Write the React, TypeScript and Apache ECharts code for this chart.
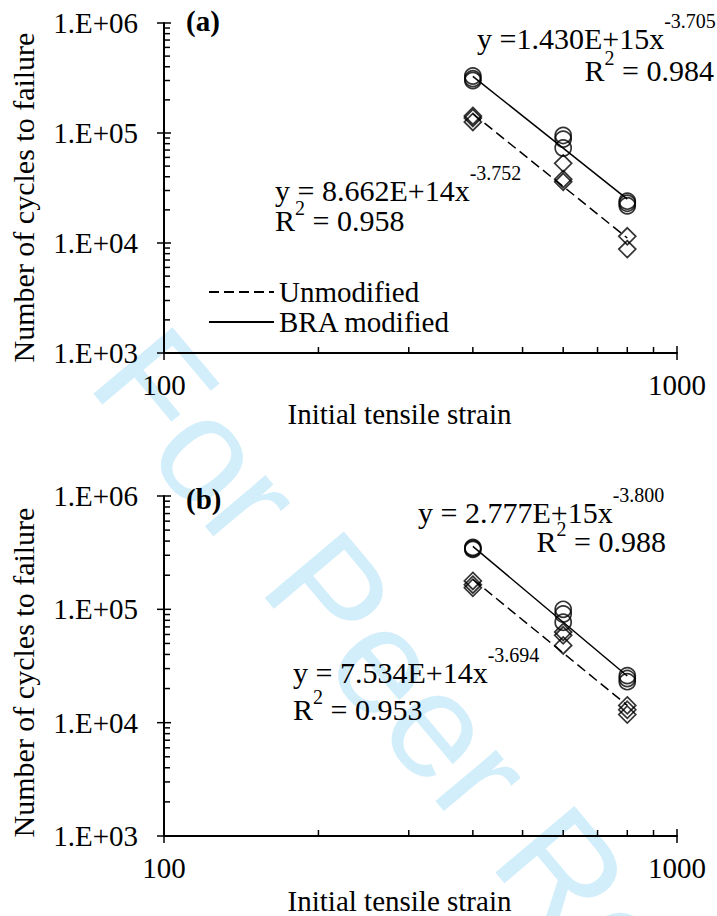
import React, { useEffect, useRef } from 'react';
import * as echarts from 'echarts';

// ---------- data ----------
const strainLevels = [400, 600, 800];

// panel (a)
const aBraCycles = [
  [330000, 312000, 300000],
  [95000, 88000, 73000],
  [24000, 23000, 21800],
];
const aUnmodCycles = [
  [143000, 137000, 126000],
  [53000, 38000, 36000],
  [11500, 8800],
];
// panel (b)
const bBraCycles = [
  [352000, 345000, 338000],
  [100000, 91000, 77000],
  [26000, 24500, 23000],
];
const bUnmodCycles = [
  [178000, 165000, 155000],
  [63000, 59000, 48000],
  [14200, 13000, 11800],
];

// trend line end points (strain 400 and 800)
const trendStrains = [400, 800];
const aBraTrend = [327100, 25080];
const aUnmodTrend = [149500, 11100];
const bBraTrend = [359500, 25810];
const bUnmodTrend = [184100, 14220];

// axis ticks
const xTickLabels = ['100', '1000'];
const xMajorTicks = [100, 1000];
const xMinorTicks = [200, 300, 400, 500, 600, 700, 800, 900];
const yMajorTicks = [1000, 10000, 100000, 1000000];
const yTickLabels = ['1.E+03', '1.E+04', '1.E+05', '1.E+06'];
const yMinorTicks = [
  2000, 3000, 4000, 5000, 6000, 7000, 8000, 9000,
  20000, 30000, 40000, 50000, 60000, 70000, 80000, 90000,
  200000, 300000, 400000, 500000, 600000, 700000, 800000, 900000,
];

const panelLabels = ['(a)', '(b)'];
const braEquations = [
  { coef: 'y =1.430E+15x', exp: '-3.705', r2: '0.984' },
  { coef: 'y = 2.777E+15x', exp: '-3.800', r2: '0.988' },
];
const unmodEquations = [
  { coef: 'y = 8.662E+14x', exp: '-3.752', r2: '0.958' },
  { coef: 'y = 7.534E+14x', exp: '-3.694', r2: '0.953' },
];
const legendNames = ['Unmodified', 'BRA modified'];

// ---------- styling ----------
const SERIF = "'Liberation Serif', 'Times New Roman', serif";
const FS = 29;
const EQ = 30;
const SUP = 20;
const DASH = [10, 5];

const toPoints = (groups: number[][]) => {
  const pts: number[][] = [];
  groups.forEach((g, i) => g.forEach((v) => pts.push([strainLevels[i], v])));
  return pts;
};

const tickData = () => {
  const d: number[][] = [];
  xMajorTicks.forEach((v) => d.push([v, 1000, 1]));
  xMinorTicks.forEach((v) => d.push([v, 1000, 0]));
  yMajorTicks.forEach((v) => d.push([100, v, 3]));
  yMinorTicks.forEach((v) => d.push([100, v, 2]));
  return d;
};

const tickRender = (params: any, api: any) => {
  const kind = api.value(2);
  const p = api.coord([api.value(0), api.value(1)]);
  let shape;
  if (kind === 0) shape = { x1: p[0], y1: p[1], x2: p[0], y2: p[1] - 6 };
  else if (kind === 1) shape = { x1: p[0], y1: p[1] - 7, x2: p[0], y2: p[1] + 7 };
  else if (kind === 2) shape = { x1: p[0], y1: p[1], x2: p[0] + 6, y2: p[1] };
  else shape = { x1: p[0] - 7, y1: p[1], x2: p[0] + 7, y2: p[1] };
  return { type: 'line', shape, style: { stroke: '#000', lineWidth: 1.5 } };
};

let measureCtx: CanvasRenderingContext2D | null = null;
const measure = (text: string, size: number) => {
  if (!measureCtx) measureCtx = document.createElement('canvas').getContext('2d');
  if (!measureCtx) return text.length * size * 0.5;
  measureCtx.font = `${size}px ${SERIF}`;
  return measureCtx.measureText(text).width;
};

const txt = (x: number, y: number, text: string, size: number, extra: any = {}) => ({
  type: 'text',
  x,
  y,
  silent: true,
  style: {
    text,
    fontFamily: SERIF,
    fontSize: size,
    fill: '#000',
    align: 'left',
    verticalAlign: 'middle',
    ...extra,
  },
});

// equation "coef x^exp" starting at left x, main text centred on y
const equation = (x: number, y: number, coef: string, exp: string) => {
  const w = measure(coef, EQ);
  return [txt(x, y, coef, EQ), txt(x + w, y - 17, exp, SUP)];
};

// "R^2 = value" ; anchor either left or right
const rSquared = (x: number, y: number, value: string, anchor: 'left' | 'right') => {
  const rest = ` = ${value}`;
  const wR = measure('R', EQ);
  const w2 = measure('2', SUP);
  const wRest = measure(rest, EQ);
  const x0 = anchor === 'left' ? x : x - (wR + w2 + wRest);
  return [
    txt(x0, y, 'R', EQ),
    txt(x0 + wR, y - 12, '2', SUP),
    txt(x0 + wR + w2, y, rest, EQ),
  ];
};

export default function App() {
  const ref = useRef<HTMLDivElement>(null);

  useEffect(() => {
    if (!ref.current) return;
    const chart = echarts.init(ref.current, undefined, { renderer: 'svg' });

    const grids = [
      { left: 161, top: 23, width: 516, height: 330 },
      { left: 161, top: 496, width: 516, height: 343 },
    ];

    const xAxes = grids.map((_, i) => ({
      type: 'log',
      logBase: 10,
      gridIndex: i,
      min: 100,
      max: 1000,
      name: 'Initial tensile strain',
      nameLocation: 'middle',
      nameGap: i === 0 ? 46 : 50,
      nameTextStyle: { fontFamily: SERIF, fontSize: FS, color: '#000', padding: [0, 42, 0, 0] },
      axisLine: { show: true, lineStyle: { color: '#000', width: 2 } },
      axisTick: { show: false },
      minorTick: { show: false },
      splitLine: { show: false },
      axisLabel: {
        margin: 17,
        fontFamily: SERIF,
        fontSize: FS,
        color: '#000',
        showMinLabel: true,
        showMaxLabel: true,
        formatter: (v: number) => xTickLabels[Math.round(Math.log10(v)) - 2] ?? '',
      },
    }));

    const yAxes = grids.map((_, i) => ({
      type: 'log',
      logBase: 10,
      gridIndex: i,
      min: 1000,
      max: 1000000,
      name: 'Number of cycles to failure',
      nameLocation: 'middle',
      nameRotate: 90,
      nameGap: 126,
      nameTextStyle: { fontFamily: SERIF, fontSize: 30, color: '#000', padding: [0, i === 0 ? 19 : 13, 0, 0] },
      axisLine: { show: true, lineStyle: { color: '#000', width: 2 } },
      axisTick: { show: false },
      minorTick: { show: false },
      splitLine: { show: false },
      axisLabel: {
        margin: 26,
        fontFamily: SERIF,
        fontSize: FS,
        color: '#000',
        showMinLabel: true,
        showMaxLabel: true,
        formatter: (v: number) => yTickLabels[Math.round(Math.log10(v)) - 3] ?? '',
      },
    }));

    const panels = [
      { bra: aBraCycles, unmod: aUnmodCycles, braT: aBraTrend, unmodT: aUnmodTrend },
      { bra: bBraCycles, unmod: bUnmodCycles, braT: bBraTrend, unmodT: bUnmodTrend },
    ];

    const series: any[] = [];
    panels.forEach((p, i) => {
      series.push({
        type: 'custom',
        name: 'ticks' + i,
        xAxisIndex: i,
        yAxisIndex: i,
        clip: false,
        silent: true,
        z: 1,
        encode: { x: 0, y: 1 },
        data: tickData(),
        renderItem: tickRender,
      });
      series.push({
        type: 'line',
        name: legendNames[0],
        xAxisIndex: i,
        yAxisIndex: i,
        symbol: 'none',
        data: trendStrains.map((s, k) => [s, p.unmodT[k]]),
        lineStyle: { color: '#000', width: 1.5, type: DASH },
        itemStyle: { color: '#000' },
        z: 3,
      });
      series.push({
        type: 'line',
        name: legendNames[1],
        xAxisIndex: i,
        yAxisIndex: i,
        symbol: 'none',
        data: trendStrains.map((s, k) => [s, p.braT[k]]),
        lineStyle: { color: '#000', width: 1.5, type: 'solid' },
        itemStyle: { color: '#000' },
        z: 3,
      });
      series.push({
        type: 'scatter',
        name: 'Unmodified tests ' + panelLabels[i],
        xAxisIndex: i,
        yAxisIndex: i,
        symbol: 'diamond',
        symbolSize: 17,
        data: toPoints(p.unmod),
        itemStyle: { color: 'rgba(0,0,0,0)', borderColor: '#000', borderWidth: 1.7 },
        z: 4,
      });
      series.push({
        type: 'scatter',
        name: 'BRA modified tests ' + panelLabels[i],
        xAxisIndex: i,
        yAxisIndex: i,
        symbol: 'circle',
        symbolSize: 16,
        data: toPoints(p.bra),
        itemStyle: { color: 'rgba(0,0,0,0)', borderColor: '#000', borderWidth: 1.7 },
        z: 4,
      });
    });

    const graphics: any[] = [
      {
        type: 'text',
        x: 68,
        y: 399,
        rotation: (-50 * Math.PI) / 180,
        z: -10,
        silent: true,
        style: {
          text: 'For Peer Review',
          font: "150px 'Liberation Sans', Arial, sans-serif",
          fill: '#d2eefb',
          align: 'left',
          verticalAlign: 'bottom',
        },
      },
      txt(186, 21, panelLabels[0], FS, { fontWeight: 'bold' }),
      txt(186, 499, panelLabels[1], FS, { fontWeight: 'bold' }),
      ...equation(477, 38, braEquations[0].coef, braEquations[0].exp),
      ...rSquared(714, 70, braEquations[0].r2, 'right'),
      ...equation(275, 190, unmodEquations[0].coef, unmodEquations[0].exp),
      ...rSquared(275, 220, unmodEquations[0].r2, 'left'),
      ...equation(418, 512, braEquations[1].coef, braEquations[1].exp),
      ...rSquared(666, 541, braEquations[1].r2, 'right'),
      ...equation(293, 672, unmodEquations[1].coef, unmodEquations[1].exp),
      ...rSquared(293, 709, unmodEquations[1].r2, 'left'),
    ];

    chart.setOption({
      animation: false,
      backgroundColor: '#fff',
      grid: grids,
      xAxis: xAxes,
      yAxis: yAxes,
      legend: {
        data: legendNames,
        orient: 'vertical',
        left: 208,
        top: 277,
        itemWidth: 65,
        itemHeight: 14,
        itemGap: 0,
        padding: 0,
        selectedMode: false,
        itemStyle: { opacity: 0 },
        textStyle: { fontFamily: SERIF, fontSize: FS, color: '#000', lineHeight: 30 },
      },
      graphic: graphics,
      series,
    });

    return () => chart.dispose();
  }, []);

  return (
    <div
      ref={ref}
      style={{ position: 'fixed', left: 0, top: 0, width: 717, height: 916, background: '#fff' }}
    />
  );
}
